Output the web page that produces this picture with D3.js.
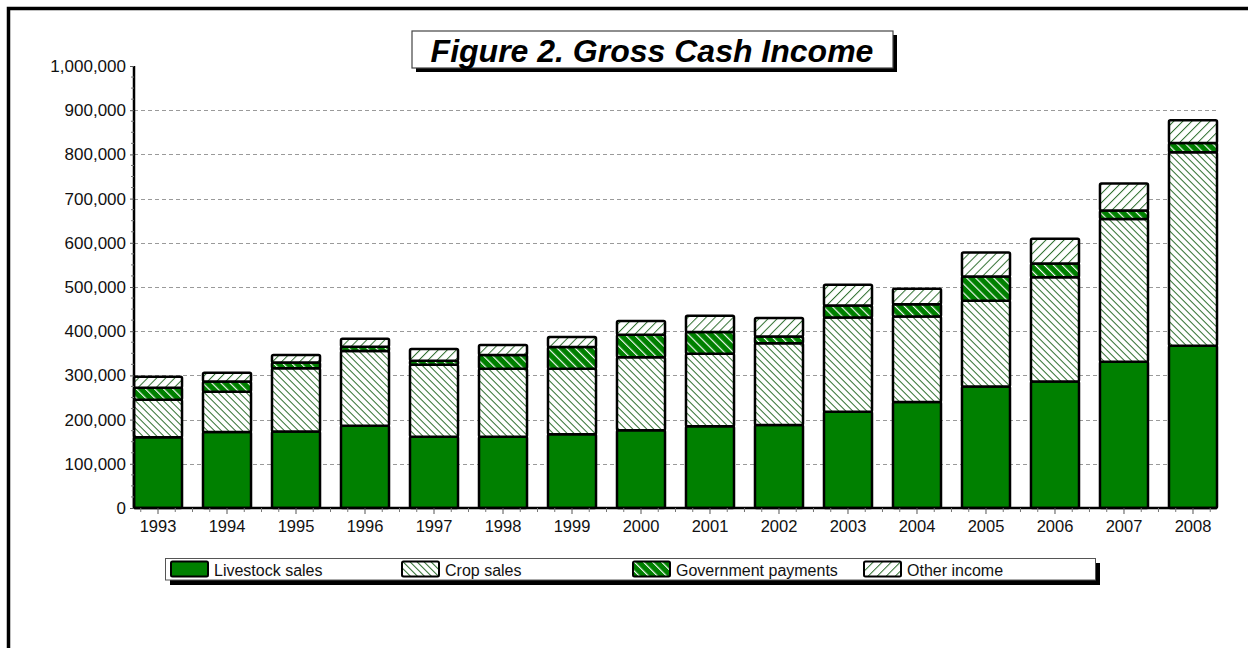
<!DOCTYPE html>
<html>
<head>
<meta charset="utf-8">
<script src="https://cdn.jsdelivr.net/npm/d3@7"></script>
<style>
  body { margin: 0; background: #fff; }
  svg { display: block; font-family: "Liberation Sans", Arial, sans-serif; }
</style>
</head>
<body>
<div id="chart"></div>
<script>
// data (dollars)
const years = ["1993","1994","1995","1996","1997","1998","1999","2000","2001","2002","2003","2004","2005","2006","2007","2008"];
const livestock = [160000,172000,173000,186000,161000,161000,167000,176000,185000,188000,218000,240000,275000,286000,331000,367000];
const crop = [85000,91000,143000,169000,163000,154000,148000,165000,164000,185000,213000,193000,194000,236000,323000,438000];
const govt = [27000,23000,13000,10000,9000,31000,49000,51000,49000,15000,27000,28000,55000,31000,19000,21000];
const other = [25000,20000,17000,18000,27000,23000,23000,31000,37000,42000,47000,35000,54000,56000,61000,51000];
const seriesNames = ["Livestock sales", "Crop sales", "Government payments", "Other income"];
const yTicks = [0,100000,200000,300000,400000,500000,600000,700000,800000,900000,1000000];

const width = 1248, height = 648;
const svg = d3.select("#chart").append("svg")
  .attr("width", width)
  .attr("height", height);

// hatch patterns
const defs = svg.append("defs");
function hatch(id, spacing, angle, bg, lineColor, lineWidth) {
  const p = defs.append("pattern")
    .attr("id", id)
    .attr("patternUnits", "userSpaceOnUse")
    .attr("width", spacing)
    .attr("height", spacing)
    .attr("patternTransform", `rotate(${angle})`);
  p.append("rect").attr("width", spacing).attr("height", spacing).attr("fill", bg);
  p.append("line")
    .attr("x1", 0.5).attr("y1", 0)
    .attr("x2", 0.5).attr("y2", spacing)
    .attr("stroke", lineColor)
    .attr("stroke-width", lineWidth);
}
hatch("cropHatch", 4.95, -45, "#fff", "#2f6f2f", 1);
hatch("govtHatch", 6.4, -45, "#008000", "#ffffff", 1.3);
hatch("otherHatch", 6.4, 45, "#fff", "#2f6f2f", 1);
const fills = ["#008000", "url(#cropHatch)", "url(#govtHatch)", "url(#otherHatch)"];

// outer frame
svg.append("rect")
  .attr("x", 8.5).attr("y", 8.5)
  .attr("width", 1300).attr("height", 700)
  .attr("fill", "none")
  .attr("stroke", "#000")
  .attr("stroke-width", 3.5);

const plot = { left: 134, right: 1217, top: 66, bottom: 508 };

const xScale = d3.scaleBand()
  .domain(years)
  .range([plot.left, plot.right])
  .paddingInner(0.304)
  .paddingOuter(0);

const yScale = d3.scaleLinear()
  .domain([0, 1000000])
  .range([plot.bottom, plot.top]);

// gridlines
svg.append("g")
  .selectAll("line")
  .data(yTicks.filter(d => d > 0 && d < 1000000))
  .join("line")
  .attr("x1", plot.left)
  .attr("x2", plot.right)
  .attr("y1", d => Math.round(yScale(d)) + 0.5)
  .attr("y2", d => Math.round(yScale(d)) + 0.5)
  .attr("stroke", "#9a9a9a")
  .attr("stroke-dasharray", "4,3");

// stacked bars
const table = years.map((y, i) => ({
  year: y, s0: livestock[i], s1: crop[i], s2: govt[i], s3: other[i]
}));
const stacked = d3.stack().keys(["s0", "s1", "s2", "s3"])(table);

svg.append("g")
  .selectAll("g")
  .data(stacked)
  .join("g")
  .attr("fill", (d, i) => fills[i])
  .selectAll("rect")
  .data(d => d)
  .join("rect")
  .attr("x", d => xScale(d.data.year))
  .attr("y", d => yScale(d[1]))
  .attr("width", xScale.bandwidth())
  .attr("height", d => yScale(d[0]) - yScale(d[1]))
  .attr("rx", 1.5)
  .attr("stroke", "#000")
  .attr("stroke-width", 2.5);

// y axis
const yAxis = d3.axisLeft(yScale)
  .tickValues(yTicks)
  .tickFormat(d3.format(","))
  .tickSize(4)
  .tickPadding(4);
const yAxisGroup = svg.append("g")
  .attr("transform", `translate(${plot.left},0)`)
  .call(yAxis);
yAxisGroup.select(".domain").attr("stroke-width", 2.5).attr("d", `M0,${plot.top}V${plot.bottom}`);
yAxisGroup.selectAll(".tick line").attr("stroke", "#555");
yAxisGroup.selectAll("text")
  .attr("font-size", "17px")
  .attr("fill", "#111")
  .attr("font-family", "Liberation Sans, Arial, sans-serif");

// y minor ticks every 25,000
const yMinor = d3.range(25000, 1000000, 25000).filter(d => d % 100000 !== 0);
svg.append("g")
  .selectAll("line")
  .data(yMinor)
  .join("line")
  .attr("x1", plot.left - 3)
  .attr("x2", plot.left)
  .attr("y1", d => yScale(d))
  .attr("y2", d => yScale(d))
  .attr("stroke", "#777");

// x axis
const xAxis = d3.axisBottom(xScale).tickSize(6).tickPadding(6);
const xAxisGroup = svg.append("g")
  .attr("transform", `translate(0,${plot.bottom})`)
  .call(xAxis);
xAxisGroup.select(".domain").attr("stroke-width", 2.5).attr("d", `M${plot.left},0H${plot.right}`);
xAxisGroup.selectAll(".tick line").attr("stroke", "#555");
xAxisGroup.selectAll("text")
  .attr("font-size", "16.5px")
  .attr("fill", "#111")
  .attr("font-family", "Liberation Sans, Arial, sans-serif");

// x minor ticks at quarter steps
const step = xScale.step();
const xMinor = [];
years.forEach(y => {
  const c = xScale(y) + xScale.bandwidth() / 2;
  [-0.5, -0.25, 0.25, 0.5].forEach(f => xMinor.push(c + f * step));
});
svg.append("g")
  .selectAll("line")
  .data(xMinor.filter(x => x > plot.left + 2 && x < plot.right + 10))
  .join("line")
  .attr("x1", d => d)
  .attr("x2", d => d)
  .attr("y1", plot.bottom)
  .attr("y2", plot.bottom + 4)
  .attr("stroke", "#777");

// title box
const title = svg.append("g");
title.append("rect")
  .attr("x", 416).attr("y", 35)
  .attr("width", 481).attr("height", 37)
  .attr("fill", "#000");
title.append("rect")
  .attr("x", 412).attr("y", 31)
  .attr("width", 481).attr("height", 37)
  .attr("fill", "#fff")
  .attr("stroke", "#444")
  .attr("stroke-width", 1.2);
title.append("text")
  .attr("x", 652).attr("y", 61.5)
  .attr("text-anchor", "middle")
  .attr("font-size", "32px")
  .attr("font-weight", "bold")
  .attr("font-style", "italic")
  .attr("fill", "#000")
  .text("Figure 2. Gross Cash Income");

// legend
const legend = svg.append("g");
legend.append("rect")
  .attr("x", 170).attr("y", 563)
  .attr("width", 930).attr("height", 22)
  .attr("fill", "#000");
legend.append("rect")
  .attr("x", 165.5).attr("y", 558.5)
  .attr("width", 930).attr("height", 21.5)
  .attr("fill", "#fff")
  .attr("stroke", "#555")
  .attr("stroke-width", 1);

const legendItems = legend.selectAll("g.item")
  .data(seriesNames)
  .join("g")
  .attr("class", "item")
  .attr("transform", (d, i) => `translate(${171 + i * 231},561.5)`);
legendItems.append("rect")
  .attr("width", 37).attr("height", 15)
  .attr("rx", 1.5)
  .attr("fill", (d, i) => fills[i])
  .attr("stroke", "#000")
  .attr("stroke-width", 2);
legendItems.append("text")
  .attr("x", 43).attr("y", 14.5)
  .attr("font-size", "16px")
  .attr("fill", "#111")
  .text(d => d);
</script>
</body>
</html>
